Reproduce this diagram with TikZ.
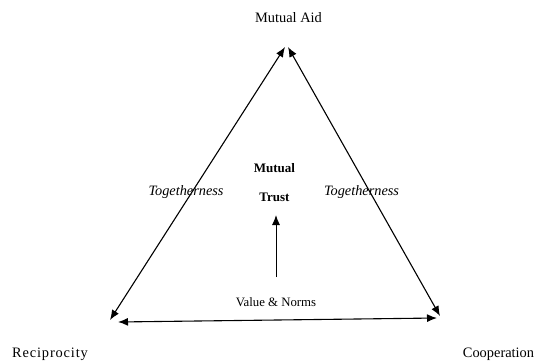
\documentclass[tikz,border=0pt]{standalone}
\usepackage{fontspec}
\setmainfont{Liberation Serif}
\usetikzlibrary{arrows.meta}
\begin{document}
\begin{tikzpicture}[x=1pt,y=-1pt,
  lbl/.style={inner sep=0pt,font=\fontsize{14.4}{16}\selectfont},
  ctr/.style={inner sep=0pt,font=\fontsize{13}{15}\selectfont\bfseries},
  tog/.style={inner sep=0pt,font=\fontsize{14.3}{16}\selectfont\itshape},
  side/.style={line width=1.1pt,{Latex[length=10pt,width=8pt]}-{Latex[length=10pt,width=8pt]}},
  up/.style={line width=1pt,-{Latex[length=10pt,width=8pt]}}]
\useasboundingbox (0,0) rectangle (534,363);
\coordinate (topL) at (285,47);
\coordinate (topR) at (288,47);
\coordinate (left) at (110,320);
\coordinate (botL) at (118,322);
\coordinate (botR) at (437,318);
\coordinate (right) at (440,316);
\node[lbl] (aid) at (288.5,18) {Mutual Aid};
\node[lbl] (rec) at (50,354) {\addfontfeatures{LetterSpace=6}Reciprocity};
\node[lbl] (coop) at (498.5,354) {Cooperation};
\node[tog] (togL) at (186,192) {Togetherness};
\node[tog] (togR) at (361.5,192) {Togetherness};
\node[ctr] (mut) at (274.5,168) {Mutual};
\node[ctr] (trust) at (274.5,197) {Trust};
\node[inner sep=0pt,font=\fontsize{12.8}{15}\selectfont] (val) at (276,302) {Value \& Norms};
\coordinate (arS) at (276,277);
\coordinate (arE) at (276,215);
\draw[side] (topL) -- (left);
\draw[side] (topR) -- (right);
\draw[side] (botL) -- (botR);
\draw[up] (arS) -- (arE);
\end{tikzpicture}
\end{document}
